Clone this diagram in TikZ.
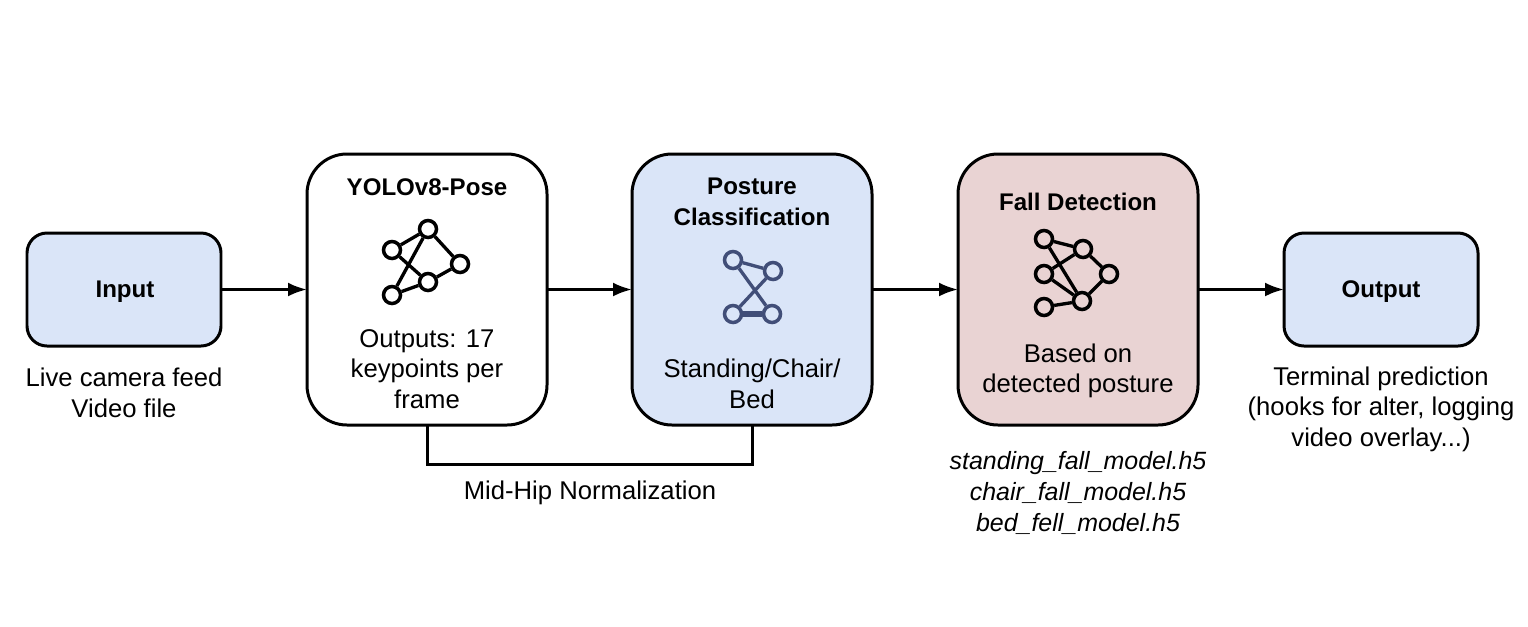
\documentclass[tikz,border=0pt]{standalone}
\usepackage{fontspec}
\setmainfont{Liberation Sans}
\usetikzlibrary{arrows.meta}
\definecolor{boxblue}{HTML}{DAE5F8}
\definecolor{boxpink}{HTML}{E9D3D3}
\definecolor{iconblue}{HTML}{414E78}
\newcommand\txt{\fontsize{7.3}{8.65}\selectfont}
\newcommand\txtbold{\fontsize{6.85}{8.65}\selectfont\bfseries}
\newcommand\txtital{\fontsize{7.1}{8.8}\selectfont\itshape}
\tikzset{
    smallbox/.style={draw=black,line width=0.85pt,rounded corners=0.2cm,minimum width=1.94cm,minimum height=1.13cm,inner sep=0pt,outer sep=0pt},
    bigbox/.style={draw=black,line width=0.85pt,rounded corners=0.4cm,minimum width=2.4cm,minimum height=2.71cm,inner sep=0pt,outer sep=0pt},
    caption/.style={align=center,inner sep=0pt,font=\txt},
    title/.style={align=center,inner sep=0pt,font=\txtbold},
    dot/.style={circle,draw=black,fill=none,line width=1pt,minimum size=0.17cm,inner sep=0pt},
    flow/.style={line width=0.85pt,-{Latex[length=0.19cm,width=0.14cm]}},
    edge/.style={line width=0.95pt},
}
\begin{document}
\begin{tikzpicture}[xscale=1.0,yscale=-1.0]
    \useasboundingbox (0.0,0.0) rectangle (15.28,6.26);
    % boxes
    \node[smallbox,fill=boxblue] (input) at (1.24,2.895) {};
    \node[bigbox,fill=white] (yolo) at (4.27,2.895) {};
    \node[bigbox,fill=boxblue] (posture) at (7.52,2.895) {};
    \node[bigbox,fill=boxpink] (fall) at (10.78,2.895) {};
    \node[smallbox,fill=boxblue] (output) at (13.81,2.895) {};
    % titles
    \node[title] (inputtitle) at (1.25,2.92) {Input};
    \node[title] (yolotitle) at (4.27,1.87) {YOLOv8-Pose};
    \node[title] (posturetitle) at (7.52,2.02) {Posture\\Classification};
    \node[title] (falltitle) at (10.78,2.02) {Fall Detection};
    \node[title] (outputtitle) at (13.81,2.92) {Output};
    % texts
    \node[caption] (yolotext) at (4.27,3.69) {Outputs: 17\\keypoints per\\frame};
    \node[caption] (posturetext) at (7.52,3.84) {Standing/Chair/\\Bed};
    \node[caption] (falltext) at (10.78,3.71) {Based on\\detected posture};
    \node[caption] (inputtext) at (1.24,3.93) {Live camera feed\\Video file};
    \node[caption] (outputtext) at (13.81,4.09) {Terminal prediction\\(hooks for alter, logging\\video overlay...)};
    \node[caption,font=\txtital] (modeltext) at (10.78,4.93) {standing\_fall\_model.h5\\chair\_fall\_model.h5\\bed\_fell\_model.h5};
    \node[caption] (normtext) at (5.90,4.93) {Mid-Hip Normalization};
    % arrows
    \draw[flow] (input) -- (yolo);
    \draw[flow] (yolo) -- (posture);
    \draw[flow] (posture) -- (fall);
    \draw[flow] (fall) -- (output);
    \draw[line width=0.85pt] (yolo.south) -- ++(0,0.39) -| (posture.south);
    % yolo icon
    \node[dot] (ya) at (4.28,2.29) {};
    \node[dot] (yb) at (3.92,2.50) {};
    \node[dot] (yc) at (4.60,2.64) {};
    \node[dot] (yd) at (4.28,2.82) {};
    \node[dot] (ye) at (3.92,2.95) {};
    \draw[edge] (ya) -- (yb);
    \draw[edge] (ya) -- (yc);
    \draw[edge] (ya) -- (ye);
    \draw[edge] (yb) -- (yd);
    \draw[edge] (yc) -- (yd);
    \draw[edge] (yd) -- (ye);
    % posture icon
    \node[dot,draw=iconblue] (pa) at (7.33,2.60) {};
    \node[dot,draw=iconblue] (pb) at (7.73,2.71) {};
    \node[dot,draw=iconblue] (pc) at (7.33,3.14) {};
    \node[dot,draw=iconblue] (pd) at (7.72,3.14) {};
    \draw[edge,iconblue] (pa) -- (pb);
    \draw[edge,iconblue] (pa) -- (pd);
    \draw[edge,iconblue] (pb) -- (pc);
    \draw[edge,iconblue,line width=1.5pt] (pc) -- (pd);
    % fall icon
    \node[dot] (fa) at (10.44,2.39) {};
    \node[dot] (fb) at (10.83,2.49) {};
    \node[dot] (fc) at (10.44,2.74) {};
    \node[dot] (fd) at (11.09,2.74) {};
    \node[dot] (fe) at (10.82,3.01) {};
    \node[dot] (ff) at (10.44,3.07) {};
    \draw[edge] (fa) -- (fb);
    \draw[edge] (fa) -- (fe);
    \draw[edge] (fb) -- (fc);
    \draw[edge] (fb) -- (fd);
    \draw[edge] (fc) -- (fe);
    \draw[edge] (fd) -- (fe);
    \draw[edge] (ff) -- (fe);
\end{tikzpicture}
\end{document}
